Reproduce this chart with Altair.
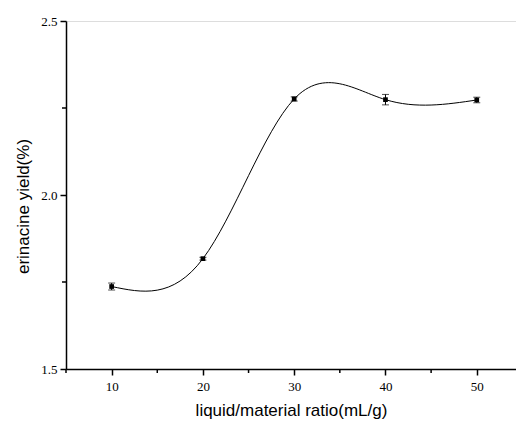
import altair as alt
import pandas as pd

ratio = [10, 20, 30, 40, 50]
yield_pct = [1.737, 1.817, 2.276, 2.274, 2.273]
err = [0.010, 0.004, 0.006, 0.015, 0.008]

df = pd.DataFrame({"x": ratio, "y": yield_pct, "e": err})
df["lo"] = df["y"] - df["e"]
df["hi"] = df["y"] + df["e"]

major_y = [1.5, 2.0, 2.5]
minor_y = [1.75, 2.25]
major_x = [10, 20, 30, 40, 50]
minor_x = [5, 15, 25, 35, 45]

xdom = [5, 54.3]
ydom = [1.5, 2.5]
W, H = 450, 348

xs = alt.Scale(domain=xdom, nice=False, zero=False)
ys = alt.Scale(domain=ydom, nice=False, zero=False)

base = alt.Chart(df)

common = dict(grid=False, labelFont="Liberation Serif", labelFontSize=13, labelColor="black",
              titleFont="Liberation Sans", titleFontSize=17, titleFontWeight="normal",
              titleColor="black", tickSize=6, tickColor="black", domainColor="black",
              domainWidth=1.5, tickWidth=1.5)

x_axis = alt.Axis(values=major_x, title="liquid/material ratio(mL/g)",
                  labelPadding=5, titlePadding=9, **common)
y_axis = alt.Axis(values=major_y, format=".1f", title="erinacine yield(%)",
                  labelPadding=3, titlePadding=8, titleY=185, **common)

X = alt.X("x:Q", scale=xs, axis=x_axis)

line = base.mark_line(interpolate="natural", color="black", strokeWidth=1).encode(
    x=X,
    y=alt.Y("y:Q", scale=ys, axis=y_axis),
)

minor_xt = alt.Chart(pd.DataFrame({"x": minor_x})).mark_rule(color="black", strokeWidth=1.5).encode(
    x=X, y=alt.value(H), y2=alt.value(H + 4)
)
minor_yt = alt.Chart(pd.DataFrame({"y": minor_y})).mark_rule(color="black", strokeWidth=1.5).encode(
    y=alt.Y("y:Q", scale=ys, axis=y_axis), x=alt.value(0), x2=alt.value(-4)
)

rules = base.mark_rule(color="black", strokeWidth=1).encode(
    x=X, y=alt.Y("lo:Q", scale=ys, axis=y_axis), y2="hi:Q"
)
cap_lo = base.mark_tick(color="black", orient="horizontal", size=7, thickness=1).encode(
    x=X, y=alt.Y("lo:Q", scale=ys, axis=y_axis))
cap_hi = base.mark_tick(color="black", orient="horizontal", size=7, thickness=1).encode(
    x=X, y=alt.Y("hi:Q", scale=ys, axis=y_axis))
pts = base.mark_square(color="black", size=22, opacity=1).encode(
    x=X, y=alt.Y("y:Q", scale=ys, axis=y_axis))

chart = alt.layer(line, minor_xt, minor_yt, rules, cap_lo, cap_hi, pts).properties(
    width=W, height=H,
    autosize=alt.AutoSizeParams(type="none"),
    padding={"left": 66, "top": 21, "right": 0, "bottom": 54},
).configure_view(stroke=None).configure(background="white")

chart.save("out.html", embed_options={"renderer": "svg", "actions": False})
